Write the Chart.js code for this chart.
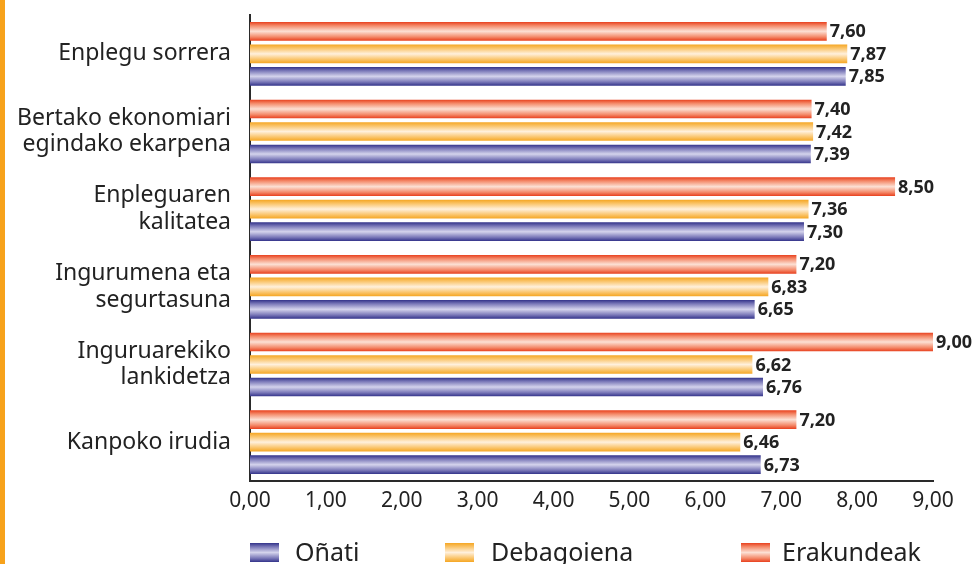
<!DOCTYPE html>
<html>
<head>
<meta charset="utf-8">
<script src="https://cdn.jsdelivr.net/npm/chart.js@4.4.0/dist/chart.umd.min.js"></script>
<style>
  html, body { margin: 0; padding: 0; background: #fff; }
  #wrap { position: relative; width: 973px; height: 564px; overflow: hidden; }
  #stripe { position: absolute; left: 0; top: 0; width: 5px; height: 564px; background: #F7A21B; }
  #c { position: absolute; left: 0; top: 0; }
  .leg { position: absolute; top: 536px; height: 30px; font-family: "Noto Sans", sans-serif; font-size: 25px; color: #222; line-height: 30px; white-space: nowrap; }
  .leg span.box { position: absolute; left: 0; top: 7px; width: 29px; height: 19px; }
  .leg span.txt { position: absolute; top: 0; }
</style>
</head>
<body>
<div id="wrap">
  <div id="stripe"></div>
  <canvas id="c" width="973" height="564"></canvas>
  <div id="legend"></div>
</div>
<script>
const categories = [
  "Enplegu sorrera",
  ["Bertako ekonomiari", "egindako ekarpena"],
  ["Enpleguaren", "kalitatea"],
  ["Ingurumena eta", "segurtasuna"],
  ["Inguruarekiko", "lankidetza"],
  "Kanpoko irudia"
];
const seriesNames = ["Erakundeak", "Debagoiena", "Oñati"];
const erakundeak = [7.60, 7.40, 8.50, 7.20, 9.00, 7.20];
const debagoiena = [7.87, 7.42, 7.36, 6.83, 6.62, 6.46];
const onati = [7.85, 7.39, 7.30, 6.65, 6.76, 6.73];
const xTicks = [0, 1, 2, 3, 4, 5, 6, 7, 8, 9];

const palettes = {
  "Erakundeak": { edge: "#E8401E", mid: "#F48A6A", light: "#FCE0D4" },
  "Debagoiena": { edge: "#F5A623", mid: "#FAC46A", light: "#FFF0DC" },
  "Oñati":      { edge: "#33338A", mid: "#7A78B8", light: "#D4D3EC" }
};

function fmt(v) { return v.toFixed(2).replace('.', ','); }

function makeGrad(ctx, top, bottom, p) {
  const g = ctx.createLinearGradient(0, top, 0, bottom);
  g.addColorStop(0, p.edge);
  g.addColorStop(0.2, p.mid);
  g.addColorStop(0.5, p.light);
  g.addColorStop(0.8, p.mid);
  g.addColorStop(1, p.edge);
  return g;
}

const gradPlugin = {
  id: 'gradBars',
  beforeDatasetsDraw(chart) {
    const ctx = chart.ctx;
    chart.data.datasets.forEach((ds, di) => {
      const meta = chart.getDatasetMeta(di);
      const p = palettes[ds.label];
      meta.data.forEach(el => {
        const pr = el.getProps(['y', 'height'], true);
        const top = pr.y - pr.height / 2, bottom = pr.y + pr.height / 2;
        el.options = Object.assign({}, el.options, { backgroundColor: makeGrad(ctx, top, bottom, p) });
      });
    });
  },
  afterDatasetsDraw(chart) {
    const ctx = chart.ctx;
    ctx.save();
    ctx.font = "bold 18px 'Noto Sans', sans-serif";
    ctx.fillStyle = "#222";
    ctx.textAlign = "left";
    ctx.textBaseline = "middle";
    chart.data.datasets.forEach((ds, di) => {
      const meta = chart.getDatasetMeta(di);
      meta.data.forEach((el, i) => {
        const pr = el.getProps(['x', 'y'], true);
        ctx.fillText(fmt(ds.data[i]), pr.x + 3, pr.y + 1);
      });
    });
    ctx.restore();
  }
};

const datasets = [
  { label: seriesNames[0], data: erakundeak, backgroundColor: palettes["Erakundeak"].edge },
  { label: seriesNames[1], data: debagoiena, backgroundColor: palettes["Debagoiena"].edge },
  { label: seriesNames[2], data: onati, backgroundColor: palettes["Oñati"].edge }
];

new Chart(document.getElementById('c'), {
  type: 'bar',
  data: { labels: categories, datasets: datasets },
  plugins: [gradPlugin],
  options: {
    indexAxis: 'y',
    responsive: false,
    animation: false,
    devicePixelRatio: 1,
    categoryPercentage: 0.87,
    barPercentage: 0.83,
    layout: { padding: { left: 0, right: 40, top: 15, bottom: 47 } },
    plugins: { legend: { display: false }, tooltip: { enabled: false } },
    scales: {
      x: {
        min: 0, max: 9,
        afterBuildTicks(scale) { scale.ticks = xTicks.map(v => ({ value: v })); },
        afterFit(scale) { scale.height = 36; scale.paddingLeft = 0; scale.paddingRight = 0; },
        grid: { display: false, drawTicks: false },
        border: { display: true, color: '#2a2a2a', width: 2 },
        ticks: {
          padding: 7,
          color: '#222',
          font: { family: "'Noto Sans', sans-serif", size: 21 },
          callback: v => fmt(v),
          maxRotation: 0, autoSkip: false
        }
      },
      y: {
        afterFit(scale) { scale.width = 250; scale.paddingTop = 0; scale.paddingBottom = 0; },
        grid: { display: false, drawTicks: false },
        border: { display: true, color: '#2a2a2a', width: 2 },
        ticks: {
          padding: 19,
          color: '#222',
          font: { family: "'Noto Sans', sans-serif", size: 23, lineHeight: 1.15 },
          autoSkip: false
        }
      }
    }
  }
});

// legend (HTML, text as real text)
const legendOrder = [
  { name: "Oñati", left: 250, text: 45 },
  { name: "Debagoiena", left: 445, text: 46 },
  { name: "Erakundeak", left: 741, text: 41 }
];
const legEl = document.getElementById('legend');
legendOrder.forEach(it => {
  const p = palettes[it.name];
  const d = document.createElement('div');
  d.className = 'leg';
  d.style.left = it.left + 'px';
  d.innerHTML = '<span class="box" style="background:linear-gradient(' + p.edge + ',' + p.mid + ' 20%,' + p.light + ' 50%,' + p.mid + ' 80%,' + p.edge + ')"></span><span class="txt" style="left:' + it.text + 'px">' + it.name + '</span>';
  legEl.appendChild(d);
});
</script>
</body>
</html>
